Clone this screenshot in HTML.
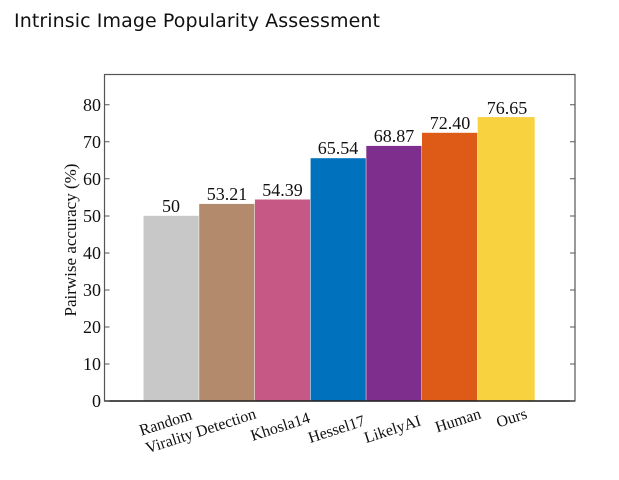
<!DOCTYPE html>
<html><head><meta charset="utf-8"><style>
body{margin:0;background:#fff;width:619px;height:475px;overflow:hidden}
</style></head><body>
<svg width="619" height="475" xmlns="http://www.w3.org/2000/svg">
<text x="14" y="27" font-family="'DejaVu Sans','Liberation Sans',sans-serif" font-size="19" fill="#111" textLength="366">Intrinsic Image Popularity Assessment</text>
<g font-family="'Liberation Serif',serif" fill="#111">
<g id="bars">
<rect x="143.5" y="215.8" width="55.2" height="185.2" fill="#c8c8c8"/>
<rect x="199.2" y="203.9" width="55.2" height="197.1" fill="#b48a6c"/>
<rect x="254.9" y="199.5" width="55.2" height="201.5" fill="#c65886"/>
<rect x="310.6" y="158.2" width="55.2" height="242.8" fill="#0072bd"/>
<rect x="366.3" y="145.9" width="55.2" height="255.1" fill="#7e2f8e"/>
<rect x="422" y="132.8" width="55.2" height="268.2" fill="#de5b17"/>
<rect x="477.7" y="117.1" width="57" height="283.9" fill="#f8d23f"/>
</g>
<rect x="104.5" y="74.5" width="470.5" height="326.5" fill="none" stroke="#555" stroke-width="1.2"/>
<line x1="104.5" y1="401" x2="575" y2="401" stroke="#222" stroke-width="1.5"/>
<g stroke="#555" stroke-width="1">
<path d="M104.5 401h5M104.5 364h5M104.5 327h5M104.5 290h5M104.5 253h5M104.5 216h5M104.5 178.8h5M104.5 141.8h5M104.5 104.7h5"/>
<path d="M575 401h-5M575 364h-5M575 327h-5M575 290h-5M575 253h-5M575 216h-5M575 178.8h-5M575 141.8h-5M575 104.7h-5"/>
</g>
<g font-size="18" text-anchor="end">
<text x="101" y="407">0</text><text x="101" y="370">10</text><text x="101" y="333">20</text><text x="101" y="296">30</text><text x="101" y="259">40</text><text x="101" y="222">50</text><text x="101" y="185">60</text><text x="101" y="148">70</text><text x="101" y="111">80</text>
</g>
<text transform="translate(76,240) rotate(-90)" font-size="17" text-anchor="middle">Pairwise accuracy (%)</text>
<g font-size="18" text-anchor="middle">
<text x="171" y="212">50</text><text x="227" y="200">53.21</text><text x="282.5" y="196">54.39</text><text x="338" y="154">65.54</text><text x="394" y="142">68.87</text><text x="450" y="129">72.40</text><text x="507" y="114">76.65</text>
</g>
<g font-size="16" text-anchor="end">
<text transform="translate(193,419) rotate(-18)">Random</text>
<text transform="translate(257,418) rotate(-18)">Virality Detection</text>
<text transform="translate(311,422) rotate(-18)">Khosla14</text>
<text transform="translate(366,425) rotate(-18)">Hessel17</text>
<text transform="translate(422,425) rotate(-18)">LikelyAI</text>
<text transform="translate(482,418) rotate(-18)">Human</text>
<text transform="translate(528,418) rotate(-18)">Ours</text>
</g>
</g>
</svg>
</body></html>
